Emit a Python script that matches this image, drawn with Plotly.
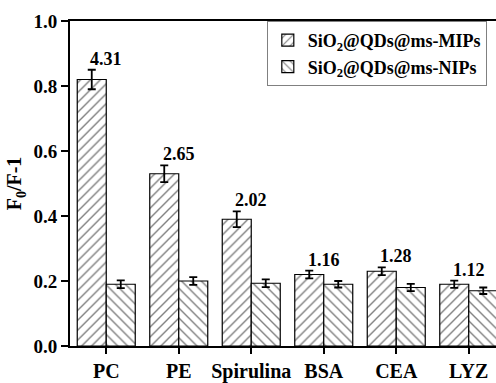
import plotly.graph_objects as go

categories = ["PC", "PE", "Spirulina", "BSA", "CEA", "LYZ"]
mip_values = [0.82, 0.53, 0.39, 0.22, 0.23, 0.19]
mip_errors = [0.030, 0.026, 0.024, 0.012, 0.012, 0.011]
nip_values = [0.19, 0.20, 0.193, 0.19, 0.18, 0.17]
nip_errors = [0.012, 0.012, 0.012, 0.010, 0.011, 0.010]
factor_labels = ["4.31", "2.65", "2.02", "1.16", "1.28", "1.12"]
y_ticks = [0.0, 0.2, 0.4, 0.6, 0.8, 1.0]

FONT = "Liberation Serif"
positions = list(range(len(categories)))


def f(size):
    return dict(family=FONT, size=size, color="black", weight="bold")


fig = go.Figure()
fig.add_trace(go.Bar(
    x=positions, y=mip_values, name="SiO<sub>2</sub>@QDs@ms-MIPs",
    marker=dict(color="white", line=dict(color="black", width=1.2),
                pattern=dict(shape="/", fgcolor="black", bgcolor="white", size=7, solidity=0.2)),
    error_y=dict(type="data", array=mip_errors, color="black", thickness=1.8, width=4),
))
fig.add_trace(go.Bar(
    x=positions, y=nip_values, name="SiO<sub>2</sub>@QDs@ms-NIPs",
    marker=dict(color="white", line=dict(color="black", width=1.2),
                pattern=dict(shape="\\", fgcolor="black", bgcolor="white", size=7, solidity=0.2)),
    error_y=dict(type="data", array=nip_errors, color="black", thickness=1.8, width=4),
))

for p, v, e, t in zip(positions, mip_values, mip_errors, factor_labels):
    fig.add_annotation(x=p, y=v + e, text=t, showarrow=False, yanchor="bottom", yshift=-1,
                       font=f(18))

n_span = 426 / 72.5
fig.update_layout(
    width=496, height=383,
    margin=dict(l=70, r=0, t=21, b=29),
    paper_bgcolor="white", plot_bgcolor="white",
    barmode="group", bargap=0.2, bargroupgap=0,
    showlegend=True,
    legend=dict(x=0.462, y=1.0, xanchor="left", yanchor="top",
                bordercolor="#808080", borderwidth=1, bgcolor="white",
                font=f(18)),
    xaxis=dict(range=[-0.5, -0.5 + n_span], tickmode="array", tickvals=positions,
               ticktext=categories, showgrid=False, zeroline=False,
               showline=True, linecolor="black", linewidth=2, mirror=True,
               ticks="outside", ticklen=6, tickwidth=1.5, tickcolor="black",
               tickfont=f(20)),
    yaxis=dict(range=[0, 1.0], tickmode="array", tickvals=y_ticks,
               ticktext=[f"{v:.1f}" for v in y_ticks], showgrid=False, zeroline=False,
               showline=True, linecolor="black", linewidth=2,
               ticks="outside", ticklen=7, tickwidth=1.5, tickcolor="black",
               tickfont=f(19),
               title=dict(text="F<sub>0</sub>/F-1", standoff=6, font=f(20))),
)

fig.write_html("out.html")
